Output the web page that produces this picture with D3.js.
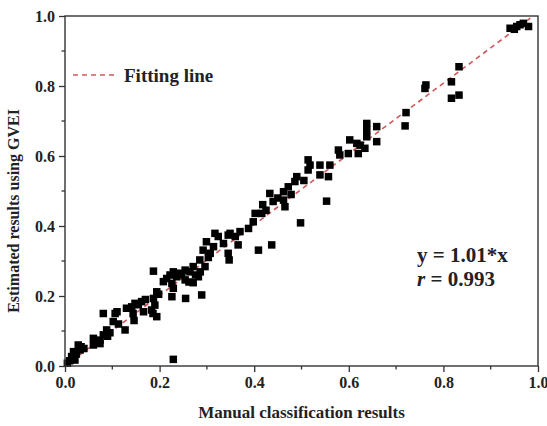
<!DOCTYPE html>
<html>
<head>
<meta charset="utf-8">
<script src="https://cdn.jsdelivr.net/npm/d3@7"></script>
<style>
  body { margin: 0; background: #fff; }
  text { font-family: "Liberation Serif", "Times New Roman", serif; font-weight: bold; }
</style>
</head>
<body>
<script>
// manual classification (x) vs GVEI estimate (y)
var manualValues = [
  0.005, 0.010, 0.014, 0.018, 0.021, 0.024, 0.028, 0.032, 0.034, 0.040,
  0.060, 0.060, 0.067, 0.074, 0.074, 0.081, 0.081, 0.088, 0.090, 0.095,
  0.102, 0.106, 0.110, 0.113, 0.127, 0.130, 0.141, 0.144, 0.146, 0.148,
  0.155, 0.162, 0.166, 0.170, 0.183, 0.187, 0.190, 0.194, 0.194, 0.186,
  0.198, 0.187, 0.208, 0.215, 0.222, 0.229, 0.226, 0.229, 0.226, 0.229,
  0.236, 0.240, 0.247, 0.254, 0.254, 0.255, 0.262, 0.264, 0.271, 0.271,
  0.276, 0.282, 0.286, 0.289, 0.285, 0.296, 0.292, 0.299, 0.303, 0.307,
  0.314, 0.317, 0.324, 0.335, 0.345, 0.345, 0.347, 0.349, 0.360, 0.366,
  0.370, 0.388, 0.398, 0.402, 0.409, 0.416, 0.418, 0.425, 0.433, 0.437,
  0.440, 0.450, 0.462, 0.462, 0.465, 0.472, 0.478, 0.486, 0.490, 0.498,
  0.505, 0.514, 0.514, 0.518, 0.539, 0.539, 0.553, 0.557, 0.560, 0.578,
  0.581, 0.599, 0.602, 0.617, 0.620, 0.624, 0.634, 0.638, 0.638, 0.638,
  0.659, 0.659, 0.719, 0.721, 0.761, 0.763, 0.817, 0.817, 0.833, 0.833,
  0.941, 0.950, 0.955, 0.962, 0.969, 0.980
];
var gveiValues = [
  0.008, 0.015, 0.027, 0.041, 0.017, 0.034, 0.060, 0.046, 0.055, 0.050,
  0.060, 0.079, 0.070, 0.074, 0.064, 0.089, 0.150, 0.103, 0.085, 0.095,
  0.127, 0.150, 0.155, 0.120, 0.103, 0.165, 0.169, 0.150, 0.130, 0.179,
  0.175, 0.184, 0.155, 0.190, 0.160, 0.193, 0.174, 0.141, 0.212, 0.150,
  0.205, 0.271, 0.241, 0.250, 0.260, 0.269, 0.236, 0.222, 0.198, 0.019,
  0.255, 0.265, 0.260, 0.274, 0.246, 0.193, 0.240, 0.269, 0.284, 0.238,
  0.260, 0.255, 0.269, 0.203, 0.303, 0.284, 0.331, 0.355, 0.310, 0.322,
  0.341, 0.379, 0.370, 0.350, 0.374, 0.322, 0.303, 0.379, 0.370, 0.346,
  0.384, 0.393, 0.412, 0.436, 0.331, 0.436, 0.461, 0.445, 0.493, 0.346,
  0.470, 0.480, 0.474, 0.498, 0.455, 0.512, 0.490, 0.527, 0.541, 0.409,
  0.530, 0.560, 0.589, 0.574, 0.574, 0.546, 0.471, 0.541, 0.574, 0.617,
  0.603, 0.607, 0.646, 0.636, 0.607, 0.631, 0.622, 0.655, 0.674, 0.693,
  0.684, 0.641, 0.686, 0.724, 0.793, 0.803, 0.812, 0.765, 0.774, 0.855,
  0.965, 0.962, 0.970, 0.975, 0.979, 0.970
];
var tickValues = [0, 0.2, 0.4, 0.6, 0.8, 1.0];
var minorTicks = [0.1, 0.3, 0.5, 0.7, 0.9];
var slope = 1.01;
var legendLabel = "Fitting line";
var equationText = "y = 1.01*x";
var rValue = "0.993";

var W = 547, H = 426;
var margin = {top: 16, right: 9, bottom: 60, left: 65},
    width = W - margin.left - margin.right,
    height = H - margin.top - margin.bottom;

var x = d3.scaleLinear().domain([0, 1]).range([0, width]);
var y = d3.scaleLinear().domain([0, 1]).range([height, 0]);

var svg = d3.select("body").append("svg")
    .attr("width", W)
    .attr("height", H)
  .append("g")
    .attr("transform", "translate(" + margin.left + "," + margin.top + ")");

svg.append("defs").append("clipPath").attr("id", "clip")
  .append("rect").attr("width", width).attr("height", height);

// fitting line
var fit = [0, 1].map(function(v) { return {x: v, y: slope * v}; });
svg.append("path")
    .datum(fit)
    .attr("clip-path", "url(#clip)")
    .attr("fill", "none")
    .attr("stroke", "#d05858")
    .attr("stroke-width", 1.6)
    .attr("stroke-dasharray", "5,4")
    .attr("d", d3.line().x(function(d) { return x(d.x); }).y(function(d) { return y(d.y); }));

// points
var pts = manualValues.map(function(v, i) { return {x: v, y: gveiValues[i]}; });
var s = 7.5;
svg.selectAll("rect.pt")
    .data(pts)
  .enter().append("rect")
    .attr("class", "pt")
    .attr("x", function(d) { return x(d.x) - s / 2; })
    .attr("y", function(d) { return y(d.y) - s / 2; })
    .attr("width", s)
    .attr("height", s)
    .attr("fill", "#000");

// axes
var fmt = d3.format(".1f");
var xAxis = d3.axisBottom(x).tickValues(tickValues).tickFormat(fmt).tickSize(6).tickPadding(5);
var yAxis = d3.axisLeft(y).tickValues(tickValues).tickFormat(fmt).tickSize(6).tickPadding(4);

var gx = svg.append("g")
    .attr("transform", "translate(0," + height + ")")
    .call(xAxis);
var gy = svg.append("g").call(yAxis);

[gx, gy].forEach(function(g) {
  g.select(".domain").remove();
  g.selectAll(".tick line").attr("stroke", "#333").attr("stroke-width", 1.3);
  g.selectAll(".tick text")
    .attr("fill", "#222")
    .style("font-size", "16px")
    .style("font-family", "'Liberation Serif', serif")
    .style("font-weight", "bold");
});

// minor ticks
svg.append("g").selectAll("line")
    .data(minorTicks)
  .enter().append("line")
    .attr("x1", function(d) { return x(d); })
    .attr("x2", function(d) { return x(d); })
    .attr("y1", height).attr("y2", height + 3.5)
    .attr("stroke", "#333").attr("stroke-width", 1.3);
svg.append("g").selectAll("line")
    .data(minorTicks)
  .enter().append("line")
    .attr("y1", function(d) { return y(d); })
    .attr("y2", function(d) { return y(d); })
    .attr("x1", 0).attr("x2", -3.5)
    .attr("stroke", "#333").attr("stroke-width", 1.3);

// frame
svg.append("rect")
    .attr("width", width)
    .attr("height", height)
    .attr("fill", "none")
    .attr("stroke", "#333")
    .attr("stroke-width", 1.4);

// axis titles
svg.append("text")
    .attr("x", width / 2)
    .attr("y", height + 52)
    .attr("text-anchor", "middle")
    .attr("fill", "#222")
    .style("font-size", "17px")
    .text("Manual classification results");

svg.append("text")
    .attr("transform", "rotate(-90)")
    .attr("x", -height / 2 - 20)
    .attr("y", -46)
    .attr("text-anchor", "middle")
    .attr("fill", "#222")
    .style("font-size", "16px")
    .text("Estimated results using GVEI");

// legend
svg.append("line")
    .attr("x1", 8).attr("x2", 52)
    .attr("y1", 59).attr("y2", 59)
    .attr("stroke", "#d05858")
    .attr("stroke-width", 1.6)
    .attr("stroke-dasharray", "5,4");
svg.append("text")
    .attr("x", 59)
    .attr("y", 66)
    .attr("fill", "#222")
    .style("font-size", "19px")
    .text(legendLabel);

// equation
svg.append("text")
    .attr("x", 352)
    .attr("y", 246)
    .attr("fill", "#222")
    .style("font-size", "21px")
    .text(equationText);
var rt = svg.append("text")
    .attr("x", 352)
    .attr("y", 270)
    .attr("fill", "#222")
    .style("font-size", "21px");
rt.append("tspan").style("font-style", "italic").text("r");
rt.append("tspan").text(" = " + rValue);
</script>
</body>
</html>
